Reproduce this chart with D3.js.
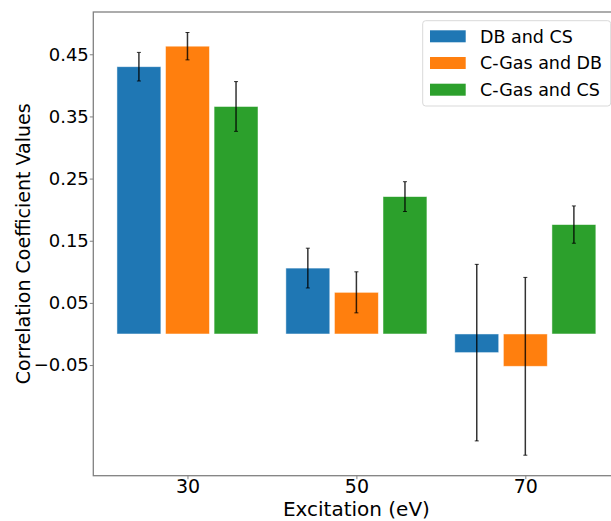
<!DOCTYPE html>
<html>
<head>
<meta charset="utf-8">
<script src="https://cdn.jsdelivr.net/npm/d3@7"></script>
<style>
  body { margin: 0; background: #fff; }
  text { font-family: "DejaVu Sans", sans-serif; fill: #000; }
</style>
</head>
<body>
<svg id="chart" width="611" height="521"></svg>
<script>
'use strict'

// ------ data ------
const excitations = [30, 50, 70]
const seriesNames = ['DB and CS', 'C-Gas and DB', 'C-Gas and CS']
const seriesColors = ['#1f77b4', '#ff7f0e', '#2ca02c']
const dbCs = [0.430, 0.106, -0.030]
const gasDb = [0.463, 0.067, -0.052]
const gasCs = [0.366, 0.221, 0.176]
const dbCsErr = [0.023, 0.032, 0.142]
const gasDbErr = [0.022, 0.033, 0.143]
const gasCsErr = [0.040, 0.024, 0.030]
const yTicks = [-0.05, 0.05, 0.15, 0.25, 0.35, 0.45]

const values = [dbCs, gasDb, gasCs]
const errors = [dbCsErr, gasDbErr, gasCsErr]
const offsets = [-5.75, 0, 5.75]
const barWidth = 5.2

// ------ layout ------
const plotLeft = 93.3, plotRight = 619.5, plotTop = 12, plotBottom = 475.7
const svg = d3.select('#chart')

const x = d3.scaleLinear().domain([18.85, 81.15]).range([plotLeft, plotRight])
const y = d3.scaleLinear().domain([-0.228, 0.518]).range([plotBottom, plotTop])

// ------ bars ------
const bars = []
values.forEach(function (vals, s) {
  vals.forEach(function (v, i) {
    bars.push({ s: s, x: excitations[i] + offsets[s], v: v, e: errors[s][i] })
  })
})

svg.append('g').selectAll('rect')
  .data(bars)
  .join('rect')
  .attr('x', d => x(d.x - barWidth / 2))
  .attr('width', d => x(d.x + barWidth / 2) - x(d.x - barWidth / 2))
  .attr('y', d => y(Math.max(0, d.v)))
  .attr('height', d => Math.abs(y(d.v) - y(0)))
  .attr('fill', d => seriesColors[d.s])
  .attr('stroke', '#fff')
  .attr('stroke-opacity', 0.6)
  .attr('stroke-width', 0.8)

// ------ error bars ------
const err = svg.append('g')
  .attr('stroke', '#000')
  .attr('stroke-opacity', 0.8)
  .attr('stroke-width', 1.5)

err.selectAll('line.bar')
  .data(bars)
  .join('line')
  .attr('class', 'bar')
  .attr('x1', d => x(d.x)).attr('x2', d => x(d.x))
  .attr('y1', d => y(d.v - d.e)).attr('y2', d => y(d.v + d.e))

err.selectAll('line.cap')
  .data(bars.flatMap(d => [d.v - d.e, d.v + d.e].map(v => ({ x: d.x, v: v }))))
  .join('line')
  .attr('class', 'cap')
  .attr('stroke-width', 1)
  .attr('x1', d => x(d.x) - 2).attr('x2', d => x(d.x) + 2)
  .attr('y1', d => y(d.v)).attr('y2', d => y(d.v))

// ------ axes ------
const yAxis = svg.append('g')
  .attr('transform', 'translate(' + plotLeft + ',0)')
  .call(d3.axisLeft(y).tickValues(yTicks).tickSize(3.5).tickPadding(1)
    .tickFormat(d => d3.format('.2f')(d).replace('-', '\u2212')))
yAxis.select('.domain').remove()
yAxis.selectAll('line').attr('stroke', '#808080').attr('stroke-width', 1)
yAxis.selectAll('text').attr('font-size', 18).attr('font-family', 'DejaVu Sans')

const xAxis = svg.append('g')
  .attr('transform', 'translate(0,' + plotBottom + ')')
  .call(d3.axisBottom(x).tickValues(excitations).tickSize(3.5).tickPadding(0.5))
xAxis.select('.domain').remove()
xAxis.selectAll('line').attr('stroke', '#808080').attr('stroke-width', 1)
xAxis.selectAll('text').attr('font-size', 19).attr('font-family', 'DejaVu Sans')

// frame
svg.append('rect')
  .attr('x', plotLeft).attr('y', plotTop)
  .attr('width', plotRight - plotLeft).attr('height', plotBottom - plotTop)
  .attr('fill', 'none')
  .attr('stroke', '#808080')
  .attr('stroke-width', 1.3)

// axis titles
svg.append('text')
  .attr('x', (plotLeft + plotRight) / 2).attr('y', 516.3)
  .attr('text-anchor', 'middle')
  .attr('font-size', 20)
  .text('Excitation (eV)')

svg.append('text')
  .attr('transform', 'translate(30,' + (plotTop + plotBottom) / 2 + ') rotate(-90)')
  .attr('text-anchor', 'middle')
  .attr('font-size', 19)
  .text('Correlation Coefficient Values')

// ------ legend ------
const legend = svg.append('g').attr('transform', 'translate(422.7,20.7)')
legend.append('rect')
  .attr('width', 188).attr('height', 85.3)
  .attr('rx', 3)
  .attr('fill', '#fff').attr('fill-opacity', 0.8)
  .attr('stroke', '#d9d9d9')

const rows = legend.selectAll('g.row')
  .data(seriesNames)
  .join('g')
  .attr('class', 'row')
  .attr('transform', (d, i) => 'translate(0,' + (15.6 + i * 26.7) + ')')

rows.append('rect')
  .attr('x', 7.3).attr('y', -6)
  .attr('width', 35.7).attr('height', 12)
  .attr('fill', (d, i) => seriesColors[i])

rows.append('text')
  .attr('x', 57.3).attr('y', 6.4)
  .attr('font-size', 17.5)
  .text(d => d)
</script>
</body>
</html>
